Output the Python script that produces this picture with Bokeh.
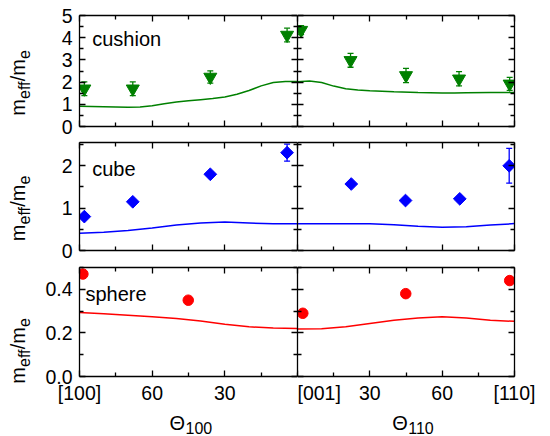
import math
from bokeh.plotting import figure
from bokeh.models import (Range1d, LinearAxis, FixedTicker, Label, Whisker, TeeHead,
                          ColumnDataSource, PrintfTickFormatter)
from bokeh.layouts import gridplot
from bokeh.embed import file_html
from bokeh.resources import INLINE

FONT = "Liberation Sans"

# ---------------- data ----------------
# x tick labels
left_x_labels = {90: "[100]", 60: "60", 30: "30"}
right_x_labels = {0: "[001]", 30: "30", 60: "60", 90: "[110]"}

# cushion (green)
cush_l_theta = [88, 68, 36, 4.3]
cush_l_m = [1.70, 1.70, 2.23, 4.12]
cush_l_err = [0.31, 0.31, 0.28, 0.31]
cush_r_theta = [1.5, 22, 45, 67, 88]
cush_r_m = [4.34, 2.98, 2.30, 2.15, 1.92]
cush_r_err = [0.2, 0.31, 0.32, 0.32, 0.29]
cush_l_line_theta = [90, 80, 70, 65, 60, 55, 50, 45, 40, 35, 30, 25, 20, 15, 10, 5, 0]
cush_l_line_m = [0.91, 0.89, 0.87, 0.88, 0.93, 1.02, 1.10, 1.16, 1.21, 1.26, 1.33, 1.45, 1.62, 1.83, 1.98, 2.03, 2.03]
cush_r_line_theta = [0, 5, 10, 15, 20, 25, 30, 40, 50, 60, 65, 70, 80, 90]
cush_r_line_m = [2.02, 2.05, 1.98, 1.82, 1.70, 1.64, 1.61, 1.56, 1.53, 1.51, 1.51, 1.52, 1.53, 1.53]

# cube (blue)
cube_l_theta = [88, 68, 36, 4.3]
cube_l_m = [0.80, 1.15, 1.80, 2.31]
cube_l_err = [0.05, 0.05, 0.05, 0.20]
cube_r_theta = [22.3, 44.8, 67.3, 87.8]
cube_r_m = [1.57, 1.18, 1.22, 2.00]
cube_r_err = [0.05, 0.05, 0.05, 0.41]
cube_l_line_theta = [90, 80, 70, 60, 50, 40, 30, 20, 10, 0]
cube_l_line_m = [0.41, 0.43, 0.47, 0.53, 0.60, 0.65, 0.67, 0.65, 0.63, 0.63]
cube_r_line_theta = [0, 10, 20, 30, 40, 50, 60, 70, 80, 90]
cube_r_line_m = [0.63, 0.63, 0.63, 0.63, 0.61, 0.57, 0.55, 0.56, 0.60, 0.635]

# sphere (red)
sph_l_theta = [88.6, 45.1]
sph_l_m = [0.47, 0.35]
sph_r_theta = [2.2, 44.9, 88]
sph_r_m = [0.29, 0.38, 0.44]
sph_l_line_theta = [90, 80, 70, 60, 50, 40, 30, 20, 10, 0]
sph_l_line_m = [0.294, 0.288, 0.281, 0.274, 0.266, 0.255, 0.240, 0.228, 0.222, 0.220]
sph_r_line_theta = [0, 10, 20, 30, 40, 50, 60, 70, 80, 90]
sph_r_line_m = [0.218, 0.219, 0.228, 0.243, 0.258, 0.268, 0.274, 0.268, 0.258, 0.253]

# y axis settings per row
row_ymax = [5, 2.55, 0.5]
row_yticks = [[0, 1, 2, 3, 4, 5], [0, 1, 2], [0, 0.2, 0.4]]
row_yminor = [[0.5, 1.5, 2.5, 3.5, 4.5], [0.5, 1.5, 2.5], [0.1, 0.3, 0.5]]
row_names = ["cushion", "cube", "sphere"]
row_colors = ["#008000", "#0000ff", "#ff0000"]
x_titles = [("\u0398", "100"), ("\u0398", "110")]
# (text, font px, is subscript, advance px)
y_title = [("m", 20, False, 16.7), ("eff", 16, True, 17.8), ("/m", 20, False, 22.2), ("e", 16, True, 8.9)]

# ---------------- layout constants ----------------
TW = 40                      # width of the y-title column
FW_L, FW_R = 218, 217
FH = [111, 108, 109]
BT = [15, 3, 4]
BB = [13, 13, 30]
BL_L, BR_R = 39, 34
XTH = 30                     # height of the x-title row
ROW_H = [BT[i] + FH[i] + BB[i] for i in range(3)]
YT_X_MAIN, YT_X_SUB = 17.6, 23.5

XT = FixedTicker(ticks=[0, 30, 60, 90], minor_ticks=[15, 45, 75])
XT_LB = FixedTicker(ticks=[30, 60, 90], minor_ticks=[0, 15, 45, 75])


def mk_axis(ticker, labels=False, overrides=None, formatter=None, standoff=6):
    ax = LinearAxis(ticker=ticker)
    ax.axis_line_width = 1.3
    ax.axis_line_color = "black"
    ax.major_tick_in = 6
    ax.major_tick_out = 0
    ax.minor_tick_in = 4
    ax.minor_tick_out = 0
    ax.major_tick_line_width = 1.3
    ax.minor_tick_line_width = 1.3
    ax.major_tick_line_color = "black"
    ax.minor_tick_line_color = "black"
    if labels:
        ax.major_label_text_font = FONT
        ax.major_label_text_font_size = "19.5px"
        ax.major_label_text_color = "black"
        ax.major_label_standoff = standoff
        if overrides:
            ax.major_label_overrides = overrides
        if formatter is not None:
            ax.formatter = formatter
    else:
        ax.major_label_text_color = None
        ax.major_label_text_font_size = "0px"
        ax.major_label_standoff = 0
    return ax


def blank_fig(w, h):
    f = figure(frame_width=w, frame_height=h, x_range=Range1d(0, 1), y_range=Range1d(0, 1),
               output_backend="svg", toolbar_location=None,
               x_axis_location=None, y_axis_location=None,
               min_border_left=0, min_border_right=0, min_border_top=0, min_border_bottom=0)
    f.outline_line_color = None
    f.xgrid.visible = False
    f.ygrid.visible = False
    return f


def make_panel(row, left):
    p = figure(frame_width=FW_L if left else FW_R, frame_height=FH[row],
               x_range=Range1d(90, 0) if left else Range1d(0, 90),
               y_range=Range1d(0, row_ymax[row]),
               output_backend="svg", toolbar_location=None,
               x_axis_location=None, y_axis_location=None,
               min_border_left=BL_L if left else 0,
               min_border_right=0 if left else BR_R,
               min_border_top=BT[row], min_border_bottom=BB[row])
    p.outline_line_color = None
    p.xgrid.visible = False
    p.ygrid.visible = False
    yt = FixedTicker(ticks=row_yticks[row], minor_ticks=row_yminor[row])
    bottom = row == 2
    if bottom and left:
        xax = mk_axis(XT_LB, labels=True, overrides=left_x_labels, standoff=5)
    elif bottom:
        xax = mk_axis(XT, labels=True, overrides=right_x_labels, standoff=5)
    else:
        xax = mk_axis(XT)
    p.add_layout(xax, "below")
    p.add_layout(mk_axis(XT), "above")
    fmt = PrintfTickFormatter(format="%.1f") if row == 2 else None
    p.add_layout(mk_axis(yt, labels=left, formatter=fmt, standoff=7), "left")
    p.add_layout(mk_axis(yt), "right")
    return p


def ytitle_fig(row):
    f = blank_fig(TW, ROW_H[row])
    total = sum(w for *_, w in y_title)
    frame_center = ROW_H[row] - BB[row] - FH[row] / 2.0   # from figure bottom
    y = frame_center - total / 2.0 + 1.0
    for txt, fs, sub, w in y_title:
        f.add_layout(Label(x=YT_X_SUB if sub else YT_X_MAIN, y=y + w / 2.0,
                           x_units="screen", y_units="screen", text=txt,
                           angle=90, angle_units="deg", text_font=FONT,
                           text_font_size=f"{fs}px", text_color="black",
                           text_align="center", text_baseline="middle"))
        y += w
    return f


def xtitle_fig(w, k, x):
    f = blank_fig(w, XTH)
    big, sub = x_titles[k]
    f.add_layout(Label(x=x, y=13.2, x_units="screen", y_units="screen", text=big,
                       text_font=FONT, text_font_size="20px", text_color="black",
                       text_align="left", text_baseline="middle"))
    f.add_layout(Label(x=x + 16, y=8.6, x_units="screen", y_units="screen", text=sub,
                       text_font=FONT, text_font_size="16px", text_color="black",
                       text_align="left", text_baseline="middle"))
    return f


def add_errors(p, theta, m, err, color):
    src = ColumnDataSource(dict(x=theta, lower=[a - e for a, e in zip(m, err)],
                                upper=[a + e for a, e in zip(m, err)]))
    w = Whisker(source=src, base="x", upper="upper", lower="lower", dimension="height",
                line_color=color, line_width=1.3, level="underlay",
                upper_head=TeeHead(size=6, line_color=color, line_width=1.3),
                lower_head=TeeHead(size=6, line_color=color, line_width=1.3))
    p.add_layout(w)


series = [
    (cush_l_line_theta, cush_l_line_m, cush_l_theta, cush_l_m, cush_l_err,
     cush_r_line_theta, cush_r_line_m, cush_r_theta, cush_r_m, cush_r_err),
    (cube_l_line_theta, cube_l_line_m, cube_l_theta, cube_l_m, cube_l_err,
     cube_r_line_theta, cube_r_line_m, cube_r_theta, cube_r_m, cube_r_err),
    (sph_l_line_theta, sph_l_line_m, sph_l_theta, sph_l_m, None,
     sph_r_line_theta, sph_r_line_m, sph_r_theta, sph_r_m, None),
]
marker_kw = [dict(marker="inverted_triangle", size=13, angle=0.0),
             dict(marker="square", size=9, angle=math.pi / 4),
             dict(marker="circle", size=10.5, angle=0.0)]
text_pos = [(12.7, 87.2), (12.7, 81.2), (6, 82.9)]

grid = []
for row in range(3):
    col = row_colors[row]
    (llt, llm, lt, lm, le, rlt, rlm, rt, rm, re_) = series[row]
    pl = make_panel(row, True)
    pr = make_panel(row, False)
    for p, lth, lmm, th, mm, ee in ((pl, llt, llm, lt, lm, le), (pr, rlt, rlm, rt, rm, re_)):
        p.line(lth, lmm, line_color=col, line_width=1.5)
        if ee is not None:
            add_errors(p, th, mm, ee, col)
        p.scatter(th, mm, fill_color=col, line_color=col, line_width=1, **marker_kw[row])
    tx, ty = text_pos[row]
    pl.add_layout(Label(x=tx, y=ty, x_units="screen", y_units="screen", text=row_names[row],
                        text_font=FONT, text_font_size="20px", text_color="black",
                        text_align="left", text_baseline="middle"))
    grid.append([ytitle_fig(row), pl, pr])

grid.append([blank_fig(TW, XTH),
             xtitle_fig(BL_L + FW_L, 0, 90),
             xtitle_fig(FW_R + BR_R, 1, 391.7 - (TW + BL_L + FW_L))])

layout = gridplot(grid, toolbar_location=None)
open("out.html", "w").write(file_html(layout, INLINE))
